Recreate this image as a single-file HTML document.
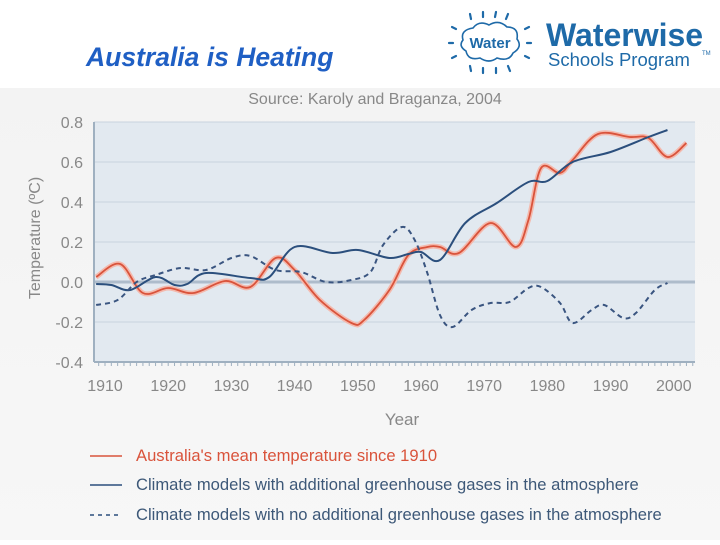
<!DOCTYPE html>
<html><head><meta charset="utf-8"><style>
body{margin:0;width:720px;height:540px;overflow:hidden;background:#fff;font-family:"Liberation Sans",sans-serif}
</style></head><body>
<svg width="720" height="540" viewBox="0 0 720 540" xmlns="http://www.w3.org/2000/svg">
<defs><linearGradient id="bg" x1="0" y1="0" x2="0" y2="1"><stop offset="0" stop-color="#f3f3f3"/><stop offset="1" stop-color="#f7f7f7"/></linearGradient></defs>
<rect x="0" y="88" width="720" height="452" fill="url(#bg)"/>
<text x="86" y="66" font-size="26.5" font-weight="bold" font-style="italic" fill="#1f5fc4">Australia is Heating</text>
<g fill="#1e6aa8">
<path d="M463,40 q-3,-10 10,-12 q6,-8 16,-3 q10,-6 18,2 q12,0 10,12 q6,8 -4,14 q-4,9 -16,5 q-8,6 -17,0 q-12,3 -14,-7 q-8,-5 -3,-11z" fill="#fff" stroke="#1e6aa8" stroke-width="1.6"/>
<text x="490" y="48" font-size="15" font-weight="bold" text-anchor="middle">Water</text>
<g stroke="#1e6aa8" stroke-width="2.2" stroke-linecap="round"><line x1="470" y1="14" x2="471" y2="19"/><line x1="483" y1="12" x2="483" y2="17"/><line x1="496" y1="12" x2="495" y2="17"/><line x1="508" y1="14" x2="506" y2="19"/><line x1="452" y1="27" x2="456" y2="29"/><line x1="449" y1="43" x2="453" y2="43"/><line x1="452" y1="58" x2="456" y2="56"/><line x1="470" y1="66" x2="471" y2="71"/><line x1="483" y1="68" x2="483" y2="73"/><line x1="496" y1="68" x2="496" y2="73"/><line x1="508" y1="66" x2="510" y2="71"/><line x1="525" y1="29" x2="529" y2="27"/><line x1="527" y1="43" x2="531" y2="43"/><line x1="525" y1="56" x2="529" y2="58"/></g>
<text x="546" y="46" font-size="32" font-weight="bold">Waterwise</text>
<text x="548" y="66" font-size="18.5">Schools Program</text>
<text x="702" y="55" font-size="6">TM</text>
</g>
<text x="375" y="104" font-size="16" fill="#888" text-anchor="middle">Source: Karoly and Braganza, 2004</text>
<rect x="94" y="122" width="601" height="240" fill="#e2e9f0"/>
<g id="grid"></g>
<g id="axes"></g>
<g id="series"></g>
<text transform="translate(40,238) rotate(-90)" font-size="16" fill="#888" text-anchor="middle">Temperature (ºC)</text>
<text x="402" y="425" font-size="17" fill="#888" text-anchor="middle">Year</text>
<g font-size="16.6">
<g><line x1="90" y1="456" x2="122" y2="456" stroke="#d9533b" stroke-width="1.5"/><text x="136" y="461" fill="#d9533b">Australia's mean temperature since 1910</text></g>
<g><line x1="90" y1="485" x2="122" y2="485" stroke="#2b4f7d" stroke-width="1.5"/><text x="136" y="490" fill="#3d5878">Climate models with additional greenhouse gases in the atmosphere</text></g>
<g><line x1="90" y1="515" x2="122" y2="515" stroke="#2b4f7d" stroke-width="1.5" stroke-dasharray="4,4"/><text x="136" y="520" fill="#3d5878">Climate models with no additional greenhouse gases in the atmosphere</text></g>
</g>
</svg>
<script>
const yTicks=[0.8,0.6,0.4,0.2,0.0,-0.2,-0.4];
const yTickLabels=["0.8","0.6","0.4","0.2","0.0","-0.2","-0.4"];
const xTicks=[1910,1920,1930,1940,1950,1960,1970,1980,1990,2000];
const ausYears=[1908.6,1912.4,1916,1920,1924,1929,1933,1937,1940,1944,1949,1951,1955,1958,1961,1963,1966,1971,1975,1977,1979,1982,1984,1988,1993,1996,1999,2002];
const ausTemps=[0.025,0.09,-0.055,-0.03,-0.055,0.005,-0.025,0.12,0.06,-0.09,-0.205,-0.19,-0.04,0.135,0.175,0.175,0.145,0.295,0.175,0.31,0.57,0.545,0.61,0.74,0.725,0.72,0.625,0.695];
const ghgYears=[1908.6,1911,1914,1918,1921,1923,1926,1933,1936,1940,1946,1950,1955,1958,1960,1963,1967,1972,1977,1980,1984,1990,1996,1999];
const ghgTemps=[-0.01,-0.015,-0.04,0.025,-0.015,-0.01,0.045,0.02,0.025,0.175,0.145,0.16,0.12,0.14,0.15,0.11,0.295,0.395,0.5,0.505,0.6,0.65,0.725,0.76];
const noGhgYears=[1908.6,1912,1915,1918,1922,1926,1930,1933,1937,1941,1945,1949,1952,1954,1957,1959,1961,1963,1965,1968,1971,1974,1977,1979,1982,1984,1987,1989,1992,1994,1997,1999];
const noGhgTemps=[-0.115,-0.09,0,0.035,0.07,0.06,0.12,0.13,0.06,0.05,0,0.01,0.05,0.185,0.275,0.21,0.045,-0.165,-0.225,-0.14,-0.105,-0.1,-0.03,-0.025,-0.105,-0.205,-0.14,-0.115,-0.18,-0.155,-0.04,-0.005];
const NS='http://www.w3.org/2000/svg';
const xs=yr=>105+(yr-1910)*6.32;
const ys=v=>282-v*200;
function mk(tag,attrs,parent){const e=document.createElementNS(NS,tag);for(const k in attrs)e.setAttribute(k,attrs[k]);parent.appendChild(e);return e;}
const grid=document.getElementById('grid'),axes=document.getElementById('axes'),ser=document.getElementById('series');
yTicks.forEach((t,i)=>{
  const l=mk('line',{x1:94,x2:695,y1:ys(t),y2:ys(t),stroke:t===0?'#aebccb':'#c8d3de','stroke-width':t===0?3:1},grid);
  
  
  const tx=mk('text',{x:83,y:ys(t)+6,'font-size':16,fill:'#888','text-anchor':'end'},axes);
  tx.textContent=yTickLabels[i];
  
  
});
const ax=mk('line',{x1:94,x2:94,y1:122,y2:362,stroke:'#9fb0c0','stroke-width':2},axes);


const bx=mk('line',{x1:94,x2:695,y1:362,y2:362,stroke:'#9fb0c0','stroke-width':2},axes);


for(let yr=1909;yr<=2003;yr++){const t=mk('line',{x1:xs(yr),x2:xs(yr),y1:362,y2:366,stroke:'#9fb0c0','stroke-width':1},axes);}
xTicks.forEach(yr=>{const t=mk('text',{x:xs(yr),y:391,'font-size':16,fill:'#888','text-anchor':'middle'},axes);t.textContent=yr;});
function pathD(X,Y){const p=X.map((x,i)=>[xs(x),ys(Y[i])]);let d='M'+p[0][0]+','+p[0][1];
  for(let i=0;i<p.length-1;i++){const p0=p[i-1]||p[i],p1=p[i],p2=p[i+1],p3=p[i+2]||p2;
    d+=' C'+(p1[0]+(p2[0]-p0[0])/6)+','+(p1[1]+(p2[1]-p0[1])/6)+' '+(p2[0]-(p3[0]-p1[0])/6)+','+(p2[1]-(p3[1]-p1[1])/6)+' '+p2[0]+','+p2[1];}
  return d;}
const glow=mk('path',{d:pathD(ausYears,ausTemps),fill:'none',stroke:'#f4b9ad','stroke-width':5,'stroke-linejoin':'round'},ser);


const a=mk('path',{d:pathD(ausYears,ausTemps),fill:'none',stroke:'#d9533b','stroke-width':1.8},ser);


const g=mk('path',{d:pathD(ghgYears,ghgTemps),fill:'none',stroke:'#2b4f7d','stroke-width':2},ser);


const n=mk('path',{d:pathD(noGhgYears,noGhgTemps),fill:'none',stroke:'#3a5580','stroke-width':2,'stroke-dasharray':'5,4'},ser);


</script>
</body></html>
